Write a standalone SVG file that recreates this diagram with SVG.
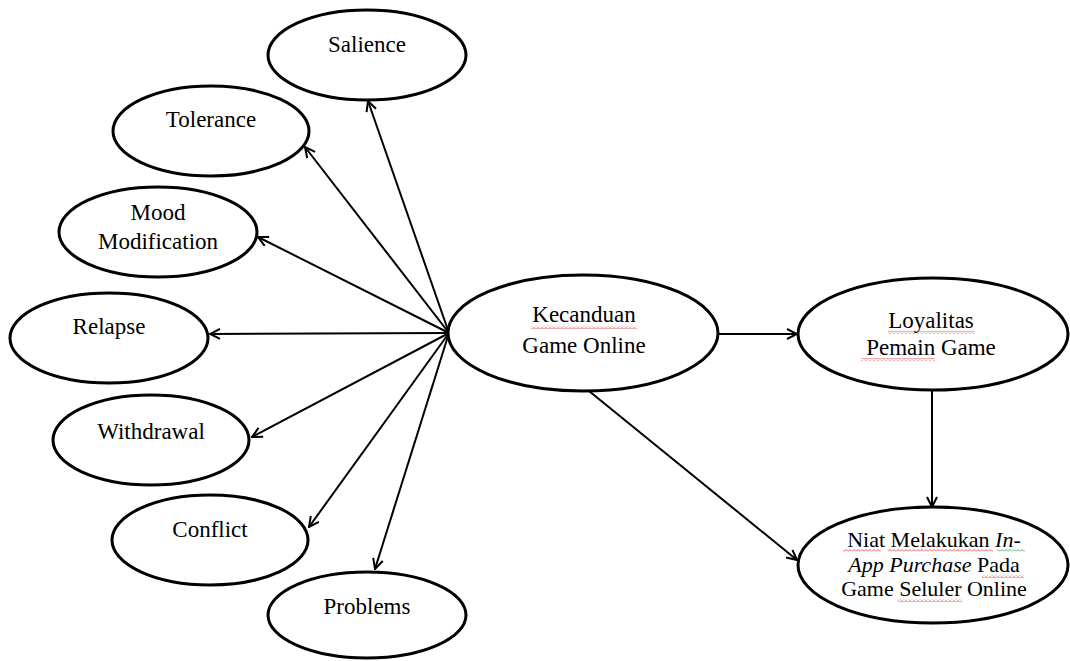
<svg xmlns="http://www.w3.org/2000/svg" width="1070" height="661" viewBox="0 0 1070 661">
<style>
  .node ellipse { fill: #fff; stroke: #000; stroke-width: 3; }
  .node text { font-family: "Liberation Serif", "Times New Roman", serif; font-size: 23px; fill: #000; text-anchor: middle; }
  #niat text { font-size: 22px; }
  .conn line { stroke: #000; stroke-width: 2; marker-end: url(#arr); }
  .wavy-r { fill: url(#zigR); }
  .wavy-g { fill: url(#zigG); }
</style>
<defs>
  <marker id="arr" viewBox="0 0 12 12" refX="11" refY="6" markerWidth="12" markerHeight="12" markerUnits="userSpaceOnUse" orient="auto">
    <path d="M1,1 L11,6 L1,11" fill="none" stroke="#000" stroke-width="2"/>
  </marker>
  <pattern id="zigR" width="4" height="3" patternUnits="userSpaceOnUse">
    <polyline points="0,2.5 2,0.5 4,2.5" fill="none" stroke="#e03030" stroke-width="0.8"/>
  </pattern>
  <pattern id="zigG" width="4" height="3" patternUnits="userSpaceOnUse">
    <polyline points="0,2.5 2,0.5 4,2.5" fill="none" stroke="#30a030" stroke-width="0.8"/>
  </pattern>
</defs>
<rect width="1070" height="661" fill="#fff"/>

<g id="connectors" class="conn">
  <line x1="449" y1="333" x2="368" y2="101"/>
  <line x1="449" y1="333" x2="305" y2="147"/>
  <line x1="449" y1="333" x2="258" y2="237"/>
  <line x1="449" y1="333" x2="210" y2="334"/>
  <line x1="449" y1="333" x2="252" y2="437"/>
  <line x1="449" y1="333" x2="309" y2="527"/>
  <line x1="449" y1="333" x2="375" y2="569"/>
  <line x1="718" y1="334" x2="797" y2="334"/>
  <line x1="932" y1="390" x2="932" y2="507"/>
  <line x1="589" y1="391" x2="797" y2="560"/>
</g>

<g id="salience" class="node">
  <ellipse cx="367" cy="55" rx="99" ry="45"/>
  <text x="367" y="52">Salience</text>
</g>
<g id="tolerance" class="node">
  <ellipse cx="211" cy="131" rx="98" ry="45"/>
  <text x="211" y="127">Tolerance</text>
</g>
<g id="mood" class="node">
  <ellipse cx="158" cy="232" rx="99" ry="45"/>
  <text x="158" y="220">Mood</text>
  <text x="158" y="249">Modification</text>
</g>
<g id="relapse" class="node">
  <ellipse cx="109" cy="338" rx="99" ry="45"/>
  <text x="109" y="334">Relapse</text>
</g>
<g id="withdrawal" class="node">
  <ellipse cx="151" cy="440" rx="98" ry="45"/>
  <text x="151" y="439">Withdrawal</text>
</g>
<g id="conflict" class="node">
  <ellipse cx="210" cy="540" rx="98" ry="45"/>
  <text x="210" y="537">Conflict</text>
</g>
<g id="problems" class="node">
  <ellipse cx="367" cy="615" rx="99" ry="43"/>
  <text x="367" y="614">Problems</text>
</g>
<g id="kecanduan" class="node">
  <ellipse cx="583" cy="333" rx="135" ry="58"/>
  <text x="584" y="322">Kecanduan</text>
  <text x="584" y="353">Game Online</text>
  <rect class="wavy-r" x="531" y="326" width="106" height="3"/>
</g>
<g id="loyalitas" class="node">
  <ellipse cx="933" cy="334" rx="135" ry="56"/>
  <text x="931" y="328">Loyalitas</text>
  <text x="931" y="355">Pemain Game</text>
  <rect class="wavy-r" x="888" y="331" width="87" height="3"/>
  <rect class="wavy-r" x="861" y="358" width="74" height="3"/>
</g>
<g id="niat" class="node">
  <ellipse cx="933" cy="565" rx="135" ry="58"/>
  <text x="934" y="547">Niat Melakukan <tspan font-style="italic">In-</tspan></text>
  <text x="934" y="572"><tspan font-style="italic">App Purchase</tspan> Pada</text>
  <text x="934" y="596">Game Seluler Online</text>
  <rect class="wavy-r" x="843" y="549" width="38" height="3"/>
  <rect class="wavy-r" x="888" y="549" width="105" height="3"/>
  <rect class="wavy-g" x="997" y="549" width="28" height="3"/>
  <rect class="wavy-r" x="982" y="575" width="42" height="3"/>
  <rect class="wavy-r" x="898" y="599" width="64" height="3"/>
</g>
</svg>
